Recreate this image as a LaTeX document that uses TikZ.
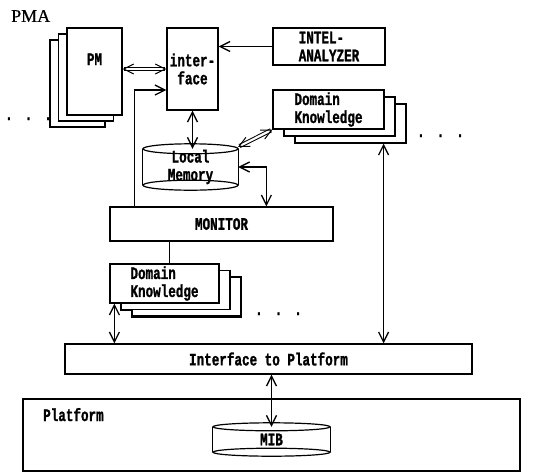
\documentclass[tikz,border=0pt]{standalone}
\usepackage{fontspec}
\newfontfamily\diagfont[FakeStretch=0.72,FakeBold=1.2]{Liberation Mono}
\newfontfamily\titlefont[FakeBold=0.6]{Liberation Serif}
\usetikzlibrary{arrows.meta,calc,shadows}
\newcommand{\dotrow}{.\hspace{12pt}.\hspace{12pt}.}
% cylinder outline round a store node: name, half width, ellipse radius
\newcommand{\drawstore}[3]{%
  \draw[line width=1.2pt] ($(#1.north west)+(0,#3)$) -- ($(#1.south west)+(0,-#3)$);
  \draw[line width=1.2pt] ($(#1.north east)+(0,#3)$) -- ($(#1.south east)+(0,-#3)$);
  \draw[line width=1.2pt] ($(#1.north)+(0,#3)$) ellipse [x radius=#2pt, y radius=#3pt];
  \draw[line width=1.2pt] ($(#1.south)+(0,-#3)$) ellipse [x radius=#2pt, y radius=#3pt];
}
\tikzset{
  labelfont/.style={font=\diagfont\bfseries\fontsize{17.5}{18}\selectfont},
  box/.style={draw,fill=white,line width=1.2pt,inner sep=2pt,labelfont},
  stack/.style={box,align=left,double copy shadow={shadow xshift=11pt,shadow yshift=-7pt}},
  store/.style={inner sep=0pt,align=center,labelfont},
  dots/.style={inner sep=0pt,anchor=base west,labelfont},
  link/.style={line width=1.3pt},
  tip/.tip={Straight Barb[length=10pt,width=10pt]},
  biarrow/.style={link,tip-tip},
  onearrow/.style={link,-tip},
  hollowarrow/.style={line width=1pt,double,double distance=2.2pt,tip-tip}
}

\begin{document}
\begin{tikzpicture}[x=1pt,y=-1pt]
\useasboundingbox (0,0) rectangle (549,472);

\node[font=\titlefont\fontsize{18}{18}\selectfont,inner sep=0pt,anchor=west] (pma) at (11,16) {PMA};

% PMA blocks
\node[box,inner ysep=0pt,minimum width=55pt,text height=37pt,text depth=50pt,
  double copy shadow={shadow xshift=-8.5pt,shadow yshift=-6pt}] (pm) at (94.5,71.5) {PM};
\node[box,align=center,minimum width=51pt,minimum height=82pt] (iface) at (192.5,69) {inter-\\face};
\node[box,align=left,minimum width=112pt,minimum height=37pt] (intel) at (329,46.5) {INTEL-\\ANALYZER};
\node[stack,minimum width=111pt,minimum height=39pt] (dkup) at (328.5,109.5) {Domain\\Knowledge};
\node[store,minimum width=95pt,minimum height=46pt] (locmem) at (190.5,167) {Local\\Memory};
\drawstore{locmem}{47.5}{5}
\node[box,minimum width=223pt,minimum height=34pt] (monitor) at (221.5,224) {MONITOR};
\node[stack,minimum width=109pt,minimum height=39pt,
  double copy shadow={shadow xshift=11pt,shadow yshift=-6.5pt}] (dklow) at (164.5,283.5) {Domain\\Knowledge};
\node[box,minimum width=407pt,minimum height=30pt] (ifplat) at (268.5,359) {Interface to Platform};

% platform
\node[box,minimum width=497pt,minimum height=72pt] (platform) at (271.5,435) {};
\node[dots] (platformlbl) at (43,421) {Platform};
\node[store,minimum width=117pt,minimum height=33pt] (mib) at (271.5,439.5) {MIB};
\drawstore{mib}{58.5}{4}

% more of the same
\node[dots] (dotsleft) at (5,120) {\dotrow};
\node[dots] (dotsup) at (417,137) {\dotrow};
\node[dots] (dotslow) at (255,315) {\dotrow};

% connectors
\draw[hollowarrow] (pm.east |- iface.west) -- (iface.west);
\draw[onearrow] (intel.west) -- (intel.west -| iface.east);
\draw[onearrow] ([xshift=25pt]monitor.north west) |- ([yshift=-21pt]iface.west);
\draw[biarrow] (iface.south) -- ([yshift=-5pt]iface.south |- locmem.north);
\draw[hollowarrow] ([yshift=-3pt]locmem.north east) -- (dkup.south west);
\draw[biarrow] (locmem.east) -| ([xshift=157pt]monitor.north west);
\draw[link] ([xshift=5pt]dklow.north) -- ([xshift=5pt]dklow.north |- monitor.south);
\draw[biarrow] ([xshift=-1pt,yshift=-14pt]dkup.south east) -- ([xshift=-1pt]dkup.south east |- ifplat.north);
\draw[biarrow] ([xshift=5pt]dklow.south west) -- ([xshift=5pt]dklow.south west |- ifplat.north);
\draw[biarrow] (ifplat.south -| mib) -- ([yshift=-4pt]mib.north);
\end{tikzpicture}
\end{document}
